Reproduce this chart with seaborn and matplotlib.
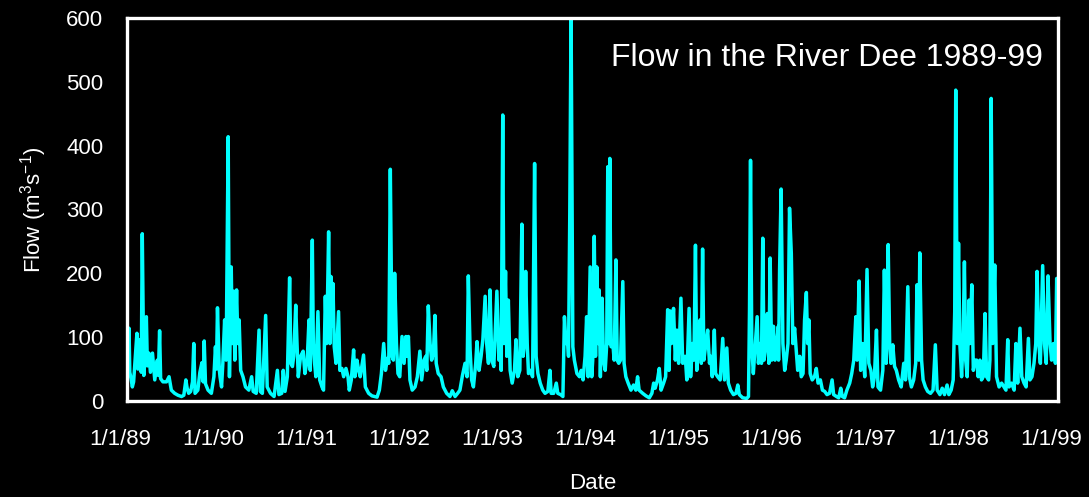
import pandas as pd
import matplotlib.pyplot as plt
from matplotlib.transforms import ScaledTranslation
import seaborn as sns

# Daily flow of the River Dee (day of year, flow in m3/s)
flow_1989 = [(0, 40), (3, 55), (8, 114), (11, 45), (16, 35), (21, 22), (26, 30), (31, 60),
             (39, 106), (43, 50), (47, 96), (52, 70), (56, 45), (60, 262), (66, 40), (71, 70),
             (76, 132), (80, 55), (86, 75), (92, 45), (100, 75), (109, 33), (119, 64), (123, 40),
             (128, 110), (132, 35), (141, 30), (155, 30), (165, 38), (174, 17), (187, 12),
             (200, 9), (214, 7), (223, 9), (231, 33), (236, 20), (242, 12), (250, 15), (257, 30),
             (262, 90), (267, 12), (278, 17), (286, 45), (294, 60), (299, 30), (303, 94),
             (308, 27), (318, 17), (331, 12), (341, 38), (347, 85), (351, 50), (355, 146),
             (362, 50)]
flow_1990 = [(0, 38), (6, 22), (11, 59), (18, 127), (24, 64), (32, 414), (37, 38), (44, 210),
             (48, 90), (54, 172), (58, 64), (65, 174), (70, 90), (75, 127), (81, 48), (90, 38),
             (100, 22), (113, 17), (124, 38), (130, 15), (142, 12), (153, 111), (158, 15),
             (166, 12), (179, 134), (185, 22), (198, 12), (212, 7), (225, 48), (231, 10),
             (242, 12), (248, 48), (255, 15), (264, 38), (273, 193), (278, 59), (284, 54),
             (289, 70), (297, 150), (302, 90), (307, 38), (316, 70), (326, 78), (333, 43),
             (342, 64), (349, 127), (354, 48), (362, 252)]
flow_1991 = [(1, 90), (6, 59), (11, 38), (19, 140), (26, 33), (35, 22), (41, 17), (48, 164),
             (53, 90), (57, 169), (61, 265), (66, 90), (70, 195), (74, 117), (78, 184), (83, 85),
             (90, 59), (100, 140), (105, 48), (113, 51), (120, 38), (129, 51), (137, 38),
             (142, 17), (150, 33), (159, 80), (164, 38), (172, 64), (179, 48), (185, 38),
             (198, 72), (205, 22), (218, 12), (231, 8), (251, 6), (260, 17), (268, 43), (277, 90),
             (284, 48), (292, 67), (297, 59), (303, 363), (310, 70), (315, 64), (320, 200),
             (327, 90), (333, 43), (340, 38), (349, 101), (357, 59), (364, 101)]
flow_1992 = [(2, 70), (9, 101), (15, 33), (24, 17), (35, 22), (44, 38), (54, 78), (61, 33),
             (70, 64), (77, 70), (81, 48), (87, 149), (94, 90), (100, 64), (107, 75), (113, 134),
             (118, 59), (126, 43), (137, 38), (146, 22), (159, 12), (172, 7), (181, 16), (192, 7),
             (202, 12), (211, 17), (221, 40), (231, 59), (239, 38), (244, 196), (251, 80),
             (257, 33), (264, 22), (273, 59), (278, 93), (286, 48), (294, 70), (301, 96),
             (310, 164), (316, 90), (323, 59), (329, 174), (336, 64), (344, 54), (356, 172),
             (364, 64)]
flow_1993 = [(1, 90), (7, 48), (13, 448), (18, 90), (24, 203), (29, 70), (35, 158), (42, 48),
             (50, 28), (59, 48), (65, 96), (72, 38), (80, 48), (88, 277), (93, 70), (98, 90),
             (103, 203), (109, 90), (114, 43), (122, 48), (130, 38), (138, 372), (144, 70),
             (151, 43), (160, 28), (170, 17), (179, 12), (190, 15), (198, 48), (203, 12),
             (213, 12), (223, 28), (229, 12), (240, 10), (249, 7), (255, 132), (261, 90),
             (266, 106), (271, 70), (276, 294), (281, 610), (288, 85), (294, 64), (304, 43),
             (314, 38), (321, 48), (328, 33), (336, 70), (342, 132), (348, 38), (356, 210),
             (362, 38)]
flow_1994 = [(1, 64), (7, 258), (12, 70), (17, 210), (22, 90), (26, 174), (31, 38), (38, 161),
             (43, 64), (50, 48), (56, 90), (60, 367), (64, 90), (68, 380), (73, 85), (80, 90),
             (85, 64), (92, 221), (97, 64), (103, 59), (110, 64), (119, 187), (124, 59),
             (131, 38), (140, 28), (151, 17), (161, 25), (170, 17), (177, 38), (183, 17),
             (197, 12), (210, 8), (223, 5), (233, 12), (240, 28), (246, 20), (255, 33), (262, 51),
             (269, 17), (279, 28), (287, 38), (295, 143), (300, 48), (305, 141), (310, 90),
             (318, 145), (325, 64), (331, 111), (338, 59), (347, 161), (354, 59), (363, 70)]
flow_1995 = [(0, 64), (5, 33), (14, 145), (20, 38), (27, 90), (33, 64), (39, 244), (44, 48),
             (50, 90), (57, 127), (62, 59), (67, 238), (72, 64), (80, 90), (87, 111), (94, 59),
             (99, 70), (105, 38), (113, 111), (118, 43), (126, 38), (136, 33), (146, 98),
             (153, 33), (162, 83), (168, 28), (177, 17), (188, 10), (198, 12), (205, 25),
             (211, 10), (224, 5), (240, 4), (247, 7), (251, 143), (255, 377), (260, 85),
             (266, 43), (274, 90), (281, 132), (286, 59), (292, 90), (298, 59), (303, 255),
             (308, 64), (316, 90), (321, 137), (327, 59), (332, 224), (338, 64), (345, 117),
             (351, 64), (358, 90), (364, 117)]
flow_1996 = [(0, 64), (4, 205), (10, 332), (17, 90), (24, 48), (30, 64), (37, 90), (43, 302),
             (50, 231), (56, 90), (63, 114), (69, 80), (75, 48), (83, 70), (89, 38), (96, 43),
             (102, 127), (109, 170), (114, 90), (119, 127), (124, 43), (132, 33), (141, 38),
             (148, 51), (155, 28), (164, 33), (172, 17), (181, 15), (190, 10), (200, 12),
             (210, 33), (216, 10), (227, 7), (236, 5), (244, 20), (250, 7), (259, 5), (268, 17),
             (279, 28), (287, 43), (295, 64), (303, 132), (308, 64), (316, 188), (322, 48),
             (329, 90), (338, 38), (347, 206), (354, 59), (362, 48)]
flow_1997 = [(3, 22), (10, 38), (18, 111), (24, 22), (34, 17), (43, 48), (49, 205), (56, 59),
             (64, 245), (70, 85), (75, 59), (82, 88), (89, 54), (96, 48), (105, 33), (115, 22),
             (125, 59), (132, 33), (141, 179), (147, 38), (155, 22), (164, 33), (172, 59),
             (177, 182), (184, 64), (188, 232), (195, 64), (201, 33), (210, 22), (219, 15),
             (230, 12), (240, 17), (249, 88), (256, 17), (267, 10), (276, 20), (285, 10),
             (295, 25), (302, 10), (311, 17), (319, 33), (325, 140), (329, 487), (335, 90),
             (340, 247), (345, 90), (352, 38), (358, 101), (363, 218)]
flow_1998 = [(3, 64), (9, 38), (16, 158), (20, 90), (27, 182), (33, 48), (39, 64), (46, 64),
             (52, 38), (59, 64), (65, 33), (72, 38), (79, 137), (85, 38), (93, 33), (98, 64),
             (103, 474), (109, 90), (117, 213), (124, 38), (134, 22), (144, 28), (153, 22),
             (161, 17), (168, 96), (173, 22), (183, 28), (193, 17), (200, 90), (207, 28),
             (216, 114), (223, 38), (232, 28), (240, 22), (249, 98), (255, 33), (263, 38),
             (271, 59), (278, 90), (283, 203), (290, 90), (296, 59), (305, 212), (312, 90),
             (319, 59), (326, 196), (334, 90), (340, 64), (347, 90), (355, 59), (360, 192),
             (364, 70)]

flow_by_year = {1989: flow_1989, 1990: flow_1990, 1991: flow_1991, 1992: flow_1992,
                1993: flow_1993, 1994: flow_1994, 1995: flow_1995, 1996: flow_1996,
                1997: flow_1997, 1998: flow_1998}

tick_years = list(range(1989, 2000))
tick_labels = ["1/1/89", "1/1/90", "1/1/91", "1/1/92", "1/1/93", "1/1/94",
               "1/1/95", "1/1/96", "1/1/97", "1/1/98", "1/1/99"]

# build one long daily-date table
rows = []
for year, pts in flow_by_year.items():
    start = pd.Timestamp(year=year, month=1, day=1)
    for day, q in pts:
        rows.append({"date": start + pd.Timedelta(days=day), "flow": q})
df = pd.DataFrame(rows)

sns.set_theme(style="ticks")
plt.rcParams['font.family'] = ['Liberation Sans', 'DejaVu Sans']
plt.rcParams['mathtext.default'] = 'regular'

fig = plt.figure(figsize=(10.89, 4.97), dpi=100, facecolor='black')
ax = fig.add_axes([0.1166, 0.1932, 0.8549, 0.7706], facecolor='black')

sns.lineplot(data=df, x="date", y="flow", ax=ax, color='#00FFFF', lw=2.5)

ax.set_xlim(pd.Timestamp("1989-01-01"), pd.Timestamp("1999-01-01"))
ax.set_ylim(0, 600)
ax.set_xticks([pd.Timestamp(year=y, month=1, day=1) for y in tick_years])
ax.set_xticklabels(tick_labels)
ax.set_yticks(range(0, 601, 100))

for side in ax.spines.values():
    side.set_color('white')
    side.set_linewidth(2.4)

ax.tick_params(axis='x', colors='white', direction='in', length=4, width=1.2,
               labelsize=16, pad=20)
ax.tick_params(axis='y', colors='white', direction='in', length=3, width=1,
               labelsize=16, pad=17)
ax.tick_params(axis='both', color='black')

# date labels sit a little left of their tick in the original
shift = ScaledTranslation(-5 / 72, 0, fig.dpi_scale_trans)
for lab in ax.get_xticklabels():
    lab.set_transform(lab.get_transform() + shift)

ax.set_xlabel("Date", color='white', fontsize=16, labelpad=17)
ax.set_ylabel("Flow (m$^3$s$^{-1}$)", color='white', fontsize=16, labelpad=12)

ax.text(0.984, 0.896, "Flow in the River Dee 1989-99", transform=ax.transAxes,
        ha='right', va='center', fontsize=23, color='white')

fig.savefig("out.png", dpi=100, facecolor='black')
